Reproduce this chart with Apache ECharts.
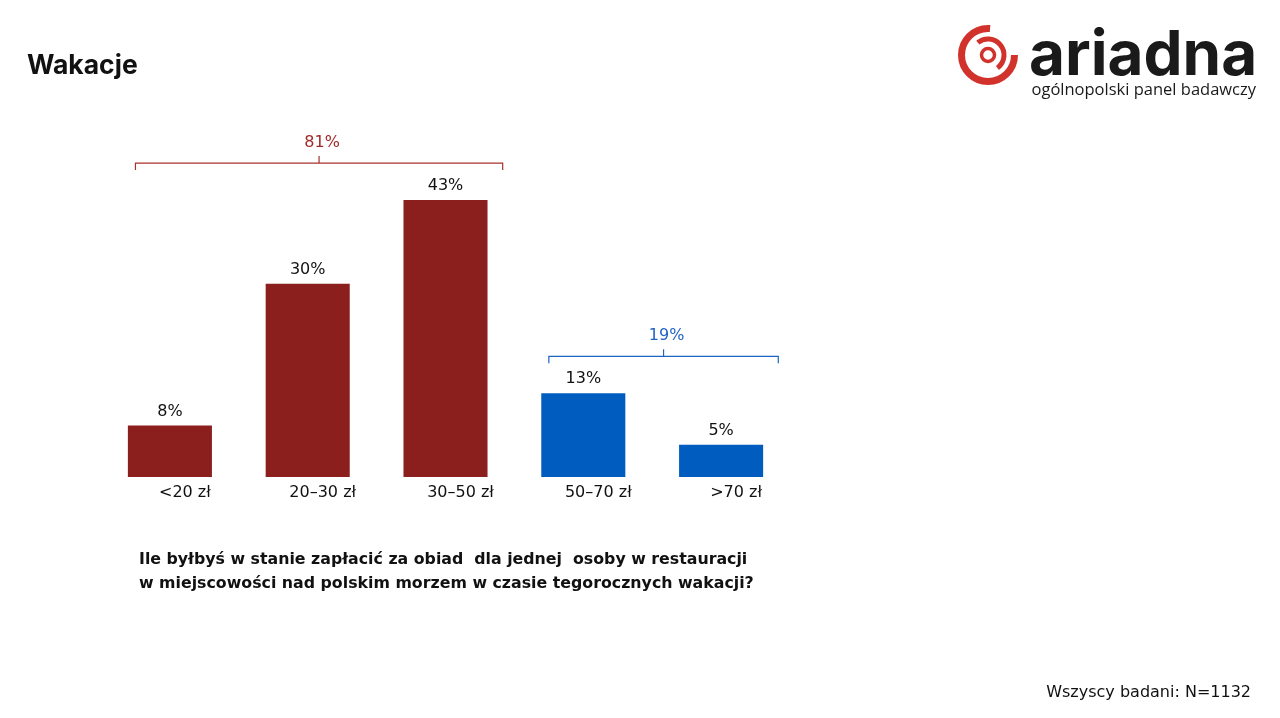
<!DOCTYPE html>
<html>
<head>
<meta charset="utf-8">
<script src="https://cdn.jsdelivr.net/npm/echarts@6/dist/echarts.min.js"></script>
<style>
html,body{margin:0;padding:0;background:#fff;}
#c{width:1280px;height:718px;}
</style>
</head>
<body>
<div id="c"></div>
<script>
const categories = ['<20 zł', '20–30 zł', '30–50 zł', '50–70 zł', '>70 zł'];
const values = [8, 30, 43, 13, 5];
const groupOf = [0, 0, 0, 1, 1];
// brackets: [first category index, last category index, group total]
const brackets = [[0, 2, 81], [3, 4, 19]];
const groupColors = ['#8B1F1D', '#005CBF'];
const bracketColors = ['#A8312E', '#1F63C4'];
const bracketTextColors = ['#9E2B28', '#1F63C4'];

const chart = echarts.init(document.getElementById('c'), null, {renderer: 'canvas'});

const bracketData = brackets.map(b => {
  let mx = 0;
  for (let i = b[0]; i <= b[1]; i++) mx = Math.max(mx, values[i]);
  return [b[0], b[1], mx, b[2], groupOf[b[0]]];
});

const option = {
  animation: false,
  backgroundColor: '#fff',
  grid: {left: 101, right: 490, top: 90.6, bottom: 241, containLabel: false},
  xAxis: {
    type: 'category',
    data: categories,
    axisLine: {show: false},
    axisTick: {show: false},
    axisLabel: {
      color: '#111',
      fontSize: 16,
      fontFamily: 'DejaVu Sans',
      margin: 8,
      padding: [0, 0, 0, 30]
    }
  },
  yAxis: {
    type: 'value',
    min: 0,
    max: 60,
    show: false
  },
  series: [
    {
      type: 'bar',
      barWidth: '61%',
      data: values.map((v, i) => ({value: v, itemStyle: {color: groupColors[groupOf[i]]}})),
      label: {
        show: true,
        position: 'top',
        distance: 6,
        formatter: p => p.value + '%',
        color: '#111',
        fontSize: 16,
        fontFamily: 'DejaVu Sans'
      }
    },
    {
      type: 'custom',
      data: bracketData,
      renderItem: function (params, api) {
        const i0 = api.value(0), i1 = api.value(1), mx = api.value(2);
        const total = api.value(3), g = api.value(4);
        const p0 = api.coord([i0, mx]);
        const p1 = api.coord([i1, mx]);
        const w = api.size([1, 0])[0];
        const left = p0[0] - 0.25 * w;
        const right = p1[0] + 0.415 * w;
        const y = p0[1] - 37;
        const mid = (left + right) / 2;
        const col = bracketColors[g];
        return {
          type: 'group',
          children: [
            {
              type: 'polyline',
              shape: {points: [[left, y + 7], [left, y], [right, y], [right, y + 7]]},
              style: {stroke: col, lineWidth: 1.2, fill: null}
            },
            {
              type: 'line',
              shape: {x1: mid, y1: y, x2: mid, y2: y - 7},
              style: {stroke: col, lineWidth: 1.2}
            },
            {
              type: 'text',
              style: {
                x: mid + 3, y: y - 20,
                text: total + '%',
                fill: bracketTextColors[g],
                fontSize: 16,
                fontFamily: 'DejaVu Sans',
                align: 'center',
                verticalAlign: 'middle'
              }
            }
          ]
        };
      },
      z: 5
    }
  ],
  graphic: [
    {
      type: 'text',
      left: 27, top: 53,
      style: {text: 'Wakacje', fontSize: 26.5, fontWeight: 'bold', fontFamily: 'Inter', fill: '#111'}
    },
    {
      type: 'text',
      left: 139, top: 548,
      style: {
        text: 'Ile byłbyś w stanie zapłacić za obiad  dla jednej  osoby w restauracji\nw miejscowości nad polskim morzem w czasie tegorocznych wakacji?',
        fontSize: 15.8, fontWeight: 'bold', fontFamily: 'DejaVu Sans', fill: '#111', lineHeight: 24
      }
    },
    {
      type: 'text',
      right: 29, top: 685,
      style: {text: 'Wszyscy badani: N=1132', fontSize: 16, fontFamily: 'DejaVu Sans', fill: '#111'}
    },
    // logo
    {
      type: 'arc',
      shape: {cx: 988, cy: 55, r: 26.5, startAngle: 0, endAngle: -Math.PI / 2 * 0.95, clockwise: true},
      style: {stroke: '#D2322C', lineWidth: 7, fill: null}
    },
    {
      type: 'arc',
      shape: {cx: 988, cy: 55, r: 16, startAngle: -Math.PI * 0.72, endAngle: Math.PI * 0.3, clockwise: true},
      style: {stroke: '#D2322C', lineWidth: 5, fill: null}
    },
    {
      type: 'circle',
      shape: {cx: 988, cy: 55, r: 6.5},
      style: {stroke: '#D2322C', lineWidth: 3.5, fill: null}
    },
    {
      type: 'text',
      left: 1029, top: 25,
      style: {text: 'ariadna', fontSize: 62, fontWeight: 'bold', fontFamily: 'Inter', fill: '#1a1a1a'}
    },
    {
      type: 'text',
      right: 24, top: 82,
      style: {text: 'ogólnopolski panel badawczy', fontSize: 16.5, fontFamily: 'Open Sans', fill: '#1a1a1a'}
    }
  ]
};
chart.setOption(option);
</script>
</body>
</html>
